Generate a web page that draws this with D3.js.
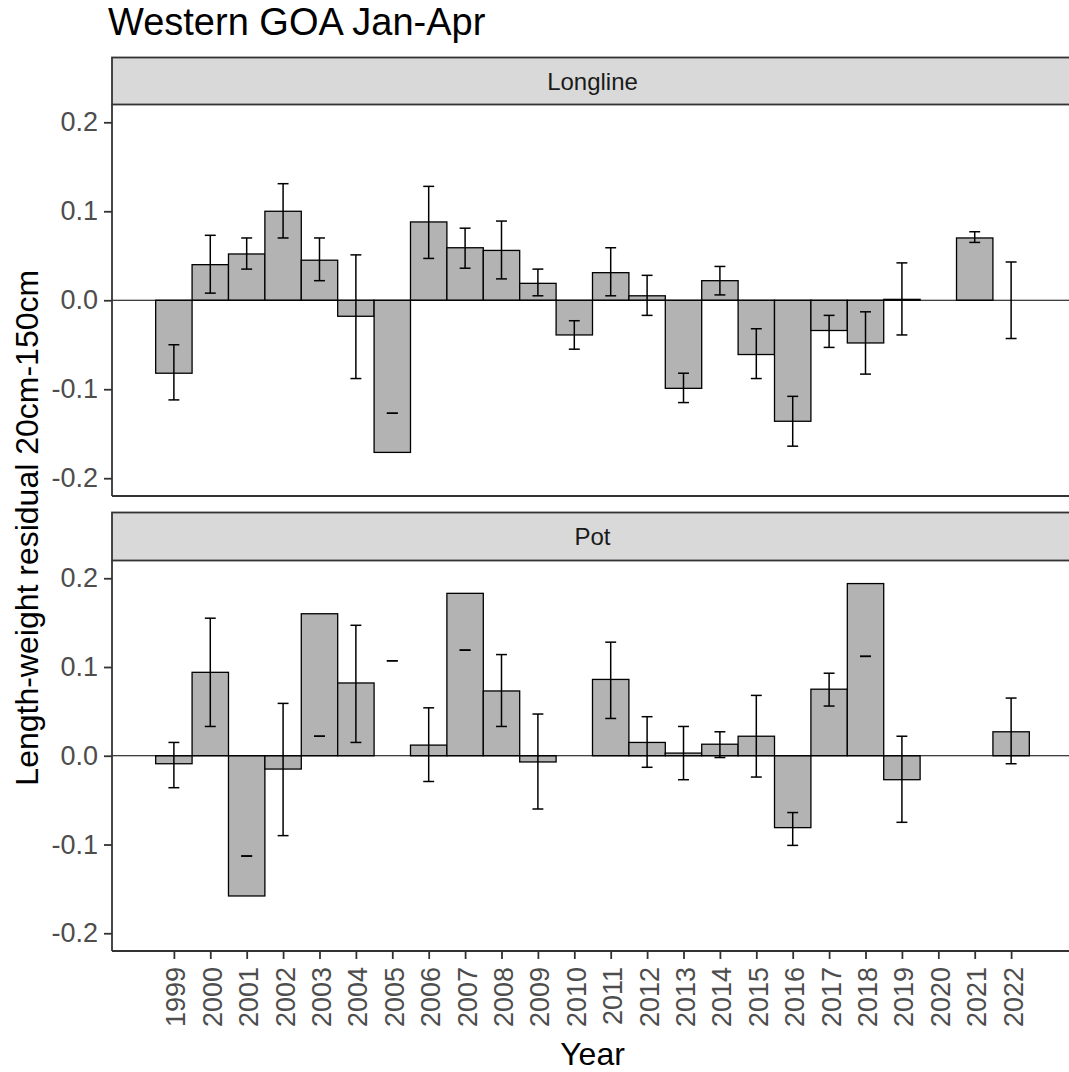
<!DOCTYPE html>
<html>
<head>
<meta charset="utf-8">
<script src="https://cdn.jsdelivr.net/npm/d3@7"></script>
<style>
  body { margin: 0; background: #fff; }
  svg { display: block; font-family: "Liberation Sans", Arial, sans-serif; }
</style>
</head>
<body>
<div id="chart"></div>
<script>
// years on the x axis
const years = [1999, 2000, 2001, 2002, 2003, 2004, 2005, 2006, 2007, 2008, 2009, 2010,
               2011, 2012, 2013, 2014, 2015, 2016, 2017, 2018, 2019, 2020, 2021, 2022];

// Longline panel: mean residual and error bar ends (null = no data)
const longlineValue = [-0.082, 0.040, 0.052, 0.100, 0.045, -0.018, -0.171, 0.088, 0.059, 0.056, 0.019, -0.039,
                       0.031, 0.005, -0.099, 0.022, -0.061, -0.136, -0.034, -0.048, 0.001, null, 0.070, 0.000];
const longlineLower = [-0.112, 0.008, 0.035, 0.070, 0.022, -0.088, -0.127, 0.047, 0.036, 0.024, 0.005, -0.055,
                       0.005, -0.017, -0.115, 0.006, -0.088, -0.164, -0.053, -0.083, -0.039, null, 0.065, -0.043];
const longlineUpper = [-0.050, 0.073, 0.070, 0.131, 0.070, 0.051, -0.127, 0.128, 0.081, 0.089, 0.035, -0.023,
                       0.059, 0.028, -0.082, 0.038, -0.032, -0.108, -0.017, -0.013, 0.042, null, 0.077, 0.043];

// Pot panel
const potValue = [-0.009, 0.094, -0.158, -0.015, 0.160, 0.082, null, 0.012, 0.183, 0.073, -0.007, null,
                  0.086, 0.015, 0.003, 0.013, 0.022, -0.081, 0.075, 0.194, -0.027, null, null, 0.027];
const potLower = [-0.036, 0.033, -0.113, -0.090, 0.022, 0.015, 0.107, -0.029, 0.119, 0.033, -0.060, null,
                  0.042, -0.013, -0.027, -0.002, -0.024, -0.101, 0.056, 0.112, -0.075, null, null, -0.009];
const potUpper = [0.015, 0.155, -0.113, 0.059, 0.022, 0.147, 0.107, 0.054, 0.119, 0.114, 0.047, null,
                  0.128, 0.044, 0.033, 0.027, 0.068, -0.064, 0.093, 0.112, 0.022, null, null, 0.065];

const yTicks = [-0.2, -0.1, 0.0, 0.1, 0.2];

const panels = [
    { name: "Longline", value: longlineValue, lower: longlineLower, upper: longlineUpper, stripTop: 57.5, top: 104.5, bottom: 496 },
    { name: "Pot", value: potValue, lower: potLower, upper: potUpper, stripTop: 512.5, top: 560.5, bottom: 951 }
];

const W = 1069, H = 1072;
const left = 112, right = 1073;
const axisCol = "#333333", tickTextCol = "#4d4d4d";
const fontFam = "'Liberation Sans', Arial, sans-serif";

let svg = d3.select("#chart").append("svg")
    .attr("width", W).attr("height", H);

let x = d3.scaleLinear().domain([1997.3, 2023.7]).range([left, right]);

// title
svg.append("text")
    .attr("x", 108).attr("y", 35)
    .style("font-size", "38px")
    .style("fill", "#000")
    .text("Western GOA Jan-Apr");

panels.forEach((p, pi) => {
    let y = d3.scaleLinear().domain([-0.22, 0.22]).range([p.bottom, p.top]);
    let g = svg.append("g");

    // strip
    g.append("rect")
        .attr("x", left).attr("y", p.stripTop)
        .attr("width", right - left).attr("height", p.top - p.stripTop)
        .attr("fill", "#d9d9d9").attr("stroke", axisCol).attr("stroke-width", 1.8);
    g.append("text")
        .attr("x", (left + right) / 2).attr("y", (p.stripTop + p.top) / 2)
        .attr("text-anchor", "middle").attr("dominant-baseline", "central")
        .style("font-size", "24px").style("fill", "#1a1a1a")
        .text(p.name);

    let rows = years.map((yr, i) => ({ year: yr, v: p.value[i], lo: p.lower[i], hi: p.upper[i] }));

    // bars
    g.selectAll("rect.bar").data(rows.filter(d => d.v !== null)).enter()
        .append("rect").attr("class", "bar")
        .attr("x", d => x(d.year - 0.5))
        .attr("width", d => x(d.year + 0.5) - x(d.year - 0.5))
        .attr("y", d => y(Math.max(0, d.v)))
        .attr("height", d => Math.abs(y(d.v) - y(0)))
        .attr("fill", "#b3b3b3").attr("stroke", "#000").attr("stroke-width", 1.3);

    // zero line
    g.append("line")
        .attr("x1", left).attr("x2", right)
        .attr("y1", y(0)).attr("y2", y(0))
        .attr("stroke", "#000").attr("stroke-width", 1.2);

    // error bars
    let eb = g.selectAll("g.err").data(rows.filter(d => d.lo !== null)).enter()
        .append("g").attr("class", "err")
        .attr("stroke", "#000").attr("stroke-width", 1.5);
    eb.append("line")
        .attr("x1", d => x(d.year)).attr("x2", d => x(d.year))
        .attr("y1", d => y(d.lo)).attr("y2", d => y(d.hi));
    eb.append("line")
        .attr("x1", d => x(d.year - 0.15)).attr("x2", d => x(d.year + 0.15))
        .attr("y1", d => y(d.lo)).attr("y2", d => y(d.lo));
    eb.append("line")
        .attr("x1", d => x(d.year - 0.15)).attr("x2", d => x(d.year + 0.15))
        .attr("y1", d => y(d.hi)).attr("y2", d => y(d.hi));

    // y axis (hyphen minus like the original)
    let yAxis = g.append("g")
        .attr("transform", `translate(${left},0)`)
        .call(d3.axisLeft(y).tickValues(yTicks)
            .tickFormat(d => d.toFixed(1).replace("−", "-"))
            .tickSize(8).tickPadding(6));
    yAxis.select(".domain").attr("stroke", axisCol).attr("stroke-width", 1.8)
        .attr("d", `M0,${p.top}V${p.bottom}`);
    yAxis.selectAll(".tick line").attr("stroke", axisCol).attr("stroke-width", 1.8);
    yAxis.selectAll(".tick text").style("font-size", "27px").style("fill", tickTextCol)
        .style("font-family", fontFam);

    // bottom axis line of each panel
    g.append("line")
        .attr("x1", left).attr("x2", right)
        .attr("y1", p.bottom).attr("y2", p.bottom)
        .attr("stroke", axisCol).attr("stroke-width", 1.8);

    // x axis on the lower panel only
    if (pi === panels.length - 1) {
        let xAxis = g.append("g")
            .attr("transform", `translate(0,${p.bottom})`)
            .call(d3.axisBottom(x).tickValues(years).tickFormat(d3.format("d")).tickSize(8).tickPadding(6));
        xAxis.select(".domain").remove();
        xAxis.selectAll(".tick line").attr("stroke", axisCol).attr("stroke-width", 1.8);
        xAxis.selectAll(".tick text")
            .style("font-size", "27px").style("fill", tickTextCol)
            .style("font-family", fontFam)
            .attr("text-anchor", "end")
            .attr("dy", null)
            .attr("dominant-baseline", "central")
            .attr("transform", "translate(2,16) rotate(-90)")
            .attr("y", 0).attr("x", 0);
    }
});

// axis titles
svg.append("text")
    .attr("transform", `translate(38,${(104.5 + 951) / 2}) rotate(-90)`)
    .attr("text-anchor", "middle")
    .style("font-size", "32px").style("fill", "#000")
    .text("Length-weight residual 20cm-150cm");

svg.append("text")
    .attr("x", (left + right) / 2).attr("y", 1065)
    .attr("text-anchor", "middle")
    .style("font-size", "32px").style("fill", "#000")
    .text("Year");
</script>
</body>
</html>
